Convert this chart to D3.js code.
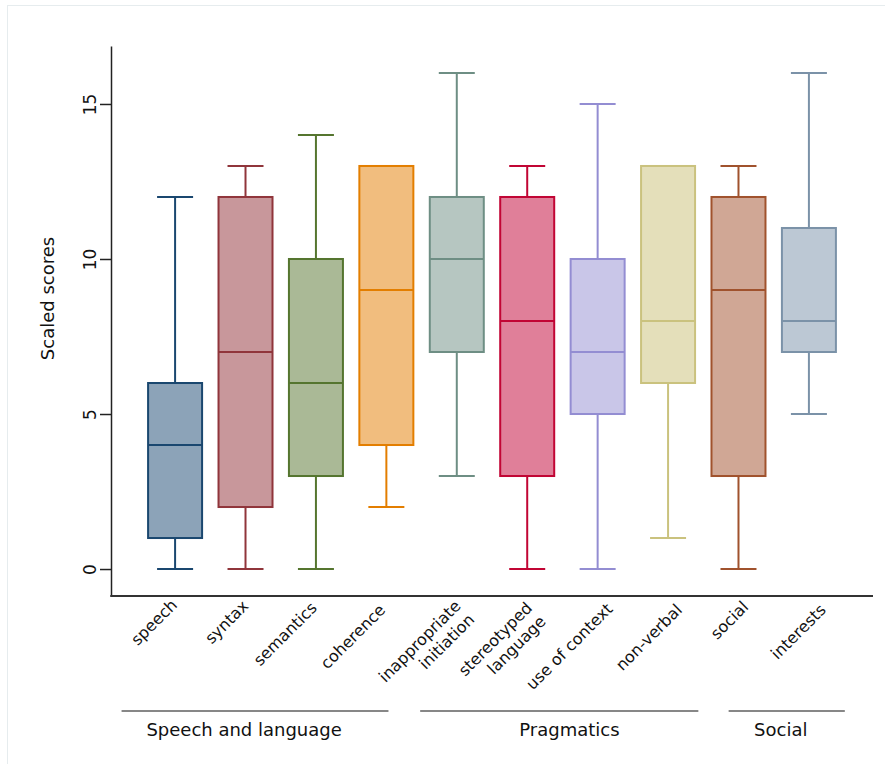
<!DOCTYPE html>
<html><head><meta charset="utf-8">
<script src="https://cdn.jsdelivr.net/npm/d3@7"></script>
<style>body{margin:0;background:#fff}svg{display:block}</style>
</head><body>
<svg id="chart" width="885" height="764"></svg>
<script>
// ---- data ----
const categories = ["speech","syntax","semantics","coherence","inappropriate initiation","stereotyped language","use of context","non-verbal","social","interests"];
const labelLines = [["speech"],["syntax"],["semantics"],["coherence"],["inappropriate","initiation"],["stereotyped","language"],["use of context"],["non-verbal"],["social"],["interests"]];
const mins    = [0, 0, 0, 2, 3, 0, 0, 1, 0, 5];
const q1s     = [1, 2, 3, 4, 7, 3, 5, 6, 3, 7];
const medians = [4, 7, 6, 9, 10, 8, 7, 8, 9, 8];
const q3s     = [6, 12, 10, 13, 12, 12, 10, 13, 12, 11];
const maxs    = [12, 13, 14, 13, 16, 13, 15, 13, 13, 16];
const strokeColors = ["#1a476f","#90353b","#55752f","#e37e00","#6e8e84","#c10534","#938dd2","#cac27e","#a0522d","#7b92a8"];
const fillColors   = ["#8ca3b8","#c8979b","#aab996","#f1bd7e","#b6c6c1","#e07f99","#c9c6e8","#e4dfba","#d0a795","#bcc8d4"];
const yTicks = [0, 5, 10, 15];
const yTitle = "Scaled scores";
const groupNames  = ["Speech and language","Pragmatics","Social"];
const groupStart  = [-0.76, 3.48, 7.86];   // in category-index units
const groupEnd    = [3.03, 7.43, 9.51];
const groupLabelAt = [0.98, 5.60, 8.60];

// ---- layout ----
const svg = d3.select("#chart");
const font = "'DejaVu Sans', sans-serif";
const pL = 111, pR = 873, pT = 46, pB = 596;
// small per-label placement nudges (px), layout only
const nudgeX = [0, 1, -1, -3, 2, 3, 13, 12, 8, 15];
const nudgeY = [0, 1, 3, 5, 1, 3, 4, 5, 2, 5];

svg.append("rect").attr("x",7.5).attr("y",5.5).attr("width",890).attr("height",770)
  .attr("fill","#fff").attr("stroke","#e6ecee").attr("stroke-width",1);

const x = d3.scalePoint().domain(categories).range([pL, pR]).padding(0.91);
const y = d3.scaleLinear().domain([-0.87, 16.87]).range([pB, pT]);
const xi = d3.scaleLinear().domain([0, categories.length-1])
  .range([x(categories[0]), x(categories[categories.length-1])]);

const boxW = 54, capW = 36;

// axes
const yAxis = svg.append("g").attr("transform",`translate(${pL},0)`)
  .call(d3.axisLeft(y).tickValues(yTicks).tickSize(11).tickSizeOuter(0).tickPadding(5));
yAxis.select(".domain").attr("stroke","#222").attr("stroke-width",1.5);
yAxis.selectAll(".tick line").attr("stroke","#222").attr("stroke-width",1.5);
yAxis.selectAll(".tick text")
  .attr("font-family",font).attr("font-size",17).attr("fill","#111")
  .attr("text-anchor","middle").attr("x",null).attr("dy",null)
  .attr("transform",`translate(-21,0) rotate(-90)`)
  .attr("dominant-baseline","central");

const xAxis = svg.append("g").attr("transform",`translate(0,${pB})`)
  .call(d3.axisBottom(x).tickSize(0).tickFormat(""));
xAxis.select(".domain").attr("d",`M${pL-0.75},0H${pR}`).attr("stroke","#333").attr("stroke-width",2);

svg.append("text").attr("font-family",font).attr("font-size",18).attr("fill","#111")
  .attr("text-anchor","middle")
  .attr("transform",`translate(47,298.5) rotate(-90)`)
  .attr("dominant-baseline","central")
  .text(yTitle);

// boxes
const g = svg.append("g");
categories.forEach((c,i)=>{
  const cx = x(c), sc = strokeColors[i], fc = fillColors[i];
  const gg = g.append("g");
  gg.append("line").attr("x1",cx).attr("x2",cx).attr("y1",y(q3s[i])).attr("y2",y(maxs[i]))
    .attr("stroke",sc).attr("stroke-width",2);
  gg.append("line").attr("x1",cx).attr("x2",cx).attr("y1",y(q1s[i])).attr("y2",y(mins[i]))
    .attr("stroke",sc).attr("stroke-width",2);
  gg.append("line").attr("x1",cx-capW/2).attr("x2",cx+capW/2).attr("y1",y(maxs[i])).attr("y2",y(maxs[i]))
    .attr("stroke",sc).attr("stroke-width",2);
  gg.append("line").attr("x1",cx-capW/2).attr("x2",cx+capW/2).attr("y1",y(mins[i])).attr("y2",y(mins[i]))
    .attr("stroke",sc).attr("stroke-width",2);
  gg.append("rect").attr("x",cx-boxW/2).attr("width",boxW)
    .attr("y",y(q3s[i])).attr("height",y(q1s[i])-y(q3s[i]))
    .attr("fill",fc).attr("stroke",sc).attr("stroke-width",2);
  gg.append("line").attr("x1",cx-boxW/2).attr("x2",cx+boxW/2).attr("y1",y(medians[i])).attr("y2",y(medians[i]))
    .attr("stroke",sc).attr("stroke-width",2);
});

// x labels rotated
categories.forEach((c,i)=>{
  const lines = labelLines[i];
  const t = svg.append("text").attr("font-family",font).attr("font-size",16).attr("fill","#111")
    .attr("text-anchor","end")
    .attr("transform",`translate(${x(c)-1+nudgeX[i]},${pB+6+nudgeY[i]}) rotate(-45)`);
  lines.forEach((ln,j)=>{
    t.append("tspan").attr("x",0).attr("dy", j===0 ? "0.35em" : "1.2em").text(ln);
  });
});

// group lines & labels
const gy = 711;
groupNames.forEach((n,i)=>{
  svg.append("line").attr("x1",xi(groupStart[i])).attr("x2",xi(groupEnd[i]))
    .attr("y1",gy).attr("y2",gy).attr("stroke","#111").attr("stroke-width",1.2);
  svg.append("text").attr("x",xi(groupLabelAt[i])).attr("y",736)
    .attr("font-family",font).attr("font-size",18).attr("fill","#111")
    .attr("text-anchor","middle").text(n);
});
</script>
</body></html>
